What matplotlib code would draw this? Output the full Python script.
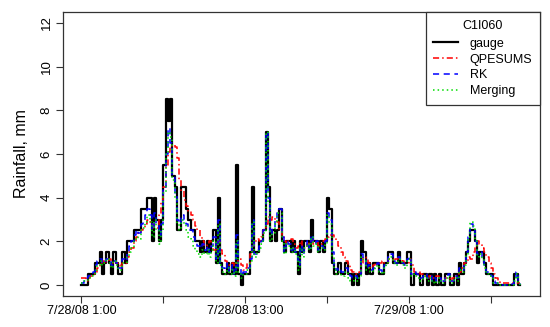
import matplotlib
matplotlib.use("Agg")
import matplotlib.pyplot as plt
import numpy as np

# 10-minute rainfall (mm) at station C1I060, starting 7/28/08 1:00
gauge = [
    0, 0, 0, 0.5, 0.5, 0.5, 1.0, 1.0, 1.5, 0.5, 1.0, 1.5, 1.0, 0.5, 1.5, 1.0,
    0.5, 0.5, 1.5, 1.0, 2.0, 2.0, 2.0, 2.5, 2.5, 2.5, 3.5, 3.5, 3.5, 4.0, 4.0, 2.0,
    4.0, 3.0, 2.0, 3.0, 5.5, 8.5, 7.5, 8.5, 5.0, 4.5, 2.5, 2.5, 4.5, 4.5, 3.5, 3.0,
    2.5, 2.5, 2.0, 2.0, 1.5, 2.0, 1.5, 2.0, 1.5, 2.0, 2.5, 1.0, 4.0, 1.0, 0.5, 0.5,
    1.0, 0.5, 1.0, 0.5, 5.5, 0.5, 0, 0.5, 0.5, 0.5, 1.5, 4.5, 1.5, 1.5, 2.0, 2.0,
    2.5, 7.0, 4.5, 2.0, 2.5, 2.0, 2.5, 3.5, 2.0, 1.5, 2.0, 2.0, 1.5, 2.0, 1.5, 0.5,
    2.0, 1.5, 2.0, 2.0, 1.5, 3.0, 2.0, 2.0, 1.5, 2.0, 1.5, 2.0, 4.0, 3.5, 1.0, 0.5,
    0.5, 1.0, 0.5, 0.5, 1.0, 0.5, 0.5, 0, 0.5, 0, 0.5, 2.0, 1.5, 0.5, 1.0, 0.5,
    1.0, 1.0, 1.0, 0.5, 0.5, 1.0, 1.0, 1.5, 1.5, 1.0, 1.0, 1.5, 1.0, 1.0, 1.0, 1.5,
    1.5, 0, 0.5, 0.5, 0.5, 0, 0.5, 0.5, 0, 0.5, 0, 0.5, 0, 0.5, 0, 0,
    0.5, 0.5, 0, 0, 0.5, 0, 1.0, 0.5, 1.0, 1.5, 2.0, 2.5, 2.5, 2.0, 1.0, 1.5,
    1.5, 1.0, 0.5, 0.5, 0.5, 0, 0, 0, 0, 0, 0, 0, 0, 0, 0.5, 0.5,
    0, 0,
]

qpesums = [
    0.3, 0.3, 0.2, 0.3, 0.4, 0.5, 0.6, 0.8, 1.0, 1.1, 1.0, 1.1, 1.2, 1.0, 1.1, 1.0,
    0.9, 0.8, 1.0, 1.0, 1.3, 1.5, 1.7, 2.0, 2.2, 2.4, 2.5, 2.6, 2.8, 3.0, 2.9, 2.8,
    2.6, 2.6, 3.2, 3.8, 4.5, 5.5, 6.1, 6.3, 6.4, 6.3, 5.8, 4.8, 4.3, 3.9, 3.6, 3.4,
    3.2, 3.0, 2.7, 2.5, 2.2, 2.0, 1.8, 1.9, 2.0, 1.8, 1.6, 1.9, 2.0, 1.6, 1.4, 1.1,
    1.0, 0.9, 1.0, 0.8, 1.0, 1.2, 0.9, 0.7, 0.8, 1.0, 1.4, 1.8, 2.0, 2.1, 2.0, 2.2,
    2.5, 2.8, 3.1, 3.0, 3.1, 3.0, 2.9, 2.5, 2.2, 2.0, 1.9, 2.0, 2.1, 1.9, 1.7, 1.8,
    2.0, 1.8, 1.7, 1.9, 2.0, 2.1, 1.9, 2.0, 1.8, 1.9, 2.0, 2.1, 2.2, 2.3, 2.3, 2.2,
    2.0, 1.8, 1.5, 1.3, 1.1, 0.9, 0.7, 0.6, 0.5, 0.5, 0.6, 1.0, 1.3, 1.2, 1.0, 0.8,
    0.9, 1.0, 0.9, 1.0, 1.1, 1.0, 1.0, 1.2, 1.2, 1.1, 1.2, 1.3, 1.2, 1.1, 1.0, 1.0,
    1.2, 0.9, 0.6, 0.5, 0.6, 0.5, 0.4, 0.4, 0.3, 0.4, 0.3, 0.3, 0.4, 0.3, 0.2, 0.2,
    0.3, 0.3, 0.2, 0.3, 0.4, 0.4, 0.6, 0.8, 1.0, 1.1, 1.3, 1.2, 1.5, 1.8, 2.0, 1.9,
    1.7, 1.5, 1.3, 1.0, 0.8, 0.5, 0.3, 0.2, 0.1, 0.1, 0.1, 0.1, 0.1, 0.1, 0.1, 0.1,
    0.1, 0.1,
]

rk = [
    0.1, 0.2, 0.3, 0.4, 0.5, 0.6, 0.9, 1.1, 1.2, 1.0, 1.1, 1.2, 1.1, 0.9, 1.1, 1.0,
    0.8, 0.8, 1.2, 1.1, 1.5, 1.8, 2.0, 2.3, 2.5, 2.4, 2.8, 3.0, 3.2, 3.5, 3.2, 2.5,
    3.3, 2.8, 2.3, 2.8, 4.5, 6.0, 7.2, 6.5, 5.0, 4.2, 3.0, 2.8, 3.2, 3.0, 2.8, 2.5,
    2.5, 2.2, 2.0, 1.8, 1.7, 1.9, 1.6, 1.8, 1.5, 1.8, 2.2, 1.2, 3.0, 1.0, 0.8, 0.7,
    1.0, 0.6, 0.9, 0.5, 2.3, 0.8, 0.4, 0.6, 0.6, 0.8, 1.2, 3.0, 1.4, 1.6, 1.8, 2.0,
    2.5, 7.0, 4.0, 2.3, 2.6, 3.0, 3.5, 3.5, 2.2, 1.5, 2.0, 1.9, 1.6, 1.8, 1.5, 0.9,
    1.8, 1.4, 1.8, 2.0, 1.7, 2.3, 1.9, 2.0, 1.6, 1.8, 1.7, 2.0, 3.3, 3.0, 1.5, 0.9,
    0.7, 0.8, 0.6, 0.6, 0.8, 0.5, 0.4, 0.3, 0.4, 0.3, 0.5, 1.4, 1.2, 0.8, 0.9, 0.7,
    0.8, 0.9, 1.0, 0.7, 0.6, 0.9, 1.0, 1.3, 1.4, 1.1, 1.0, 1.3, 1.2, 1.0, 0.9, 1.2,
    1.3, 0.5, 0.6, 0.5, 0.4, 0.3, 0.4, 0.5, 0.3, 0.4, 0.2, 0.3, 0.2, 0.3, 0.1, 0.2,
    0.4, 0.5, 0.2, 0.2, 0.4, 0.3, 0.8, 0.7, 1.0, 1.5, 2.2, 2.8, 2.6, 2.0, 1.4, 1.5,
    1.3, 0.9, 0.6, 0.5, 0.4, 0.2, 0.1, 0.05, 0, 0, 0, 0, 0, 0.05, 0.3, 0.6,
    0.1, 0,
]

merging = [
    0.1, 0.2, 0.2, 0.3, 0.4, 0.5, 0.7, 0.9, 1.1, 0.9, 1.0, 1.2, 1.0, 0.8, 1.1, 0.9,
    0.7, 0.7, 1.0, 1.0, 1.3, 1.5, 1.7, 2.0, 2.2, 2.1, 2.5, 2.6, 2.9, 3.2, 2.9, 2.2,
    3.0, 2.5, 1.9, 2.5, 4.2, 6.0, 7.0, 6.8, 4.8, 4.0, 2.8, 2.5, 3.0, 2.8, 2.5, 2.2,
    2.1, 1.8, 1.6, 1.4, 1.3, 1.6, 1.4, 1.6, 1.3, 1.6, 2.0, 1.0, 2.8, 0.9, 0.6, 0.5,
    0.8, 0.5, 0.7, 0.4, 2.0, 0.6, 0.3, 0.5, 0.5, 0.7, 1.1, 2.9, 1.3, 1.5, 1.7, 1.9,
    2.4, 7.0, 3.8, 2.0, 2.4, 2.8, 3.3, 3.3, 2.0, 1.4, 1.9, 1.8, 1.5, 1.7, 1.4, 0.7,
    1.7, 1.3, 1.7, 1.9, 1.6, 2.2, 1.8, 1.9, 1.5, 1.7, 1.6, 1.9, 3.2, 2.8, 1.3, 0.7,
    0.5, 0.6, 0.4, 0.4, 0.6, 0.3, 0.2, 0.2, 0.3, 0.2, 0.4, 1.3, 1.1, 0.7, 0.8, 0.6,
    0.7, 0.8, 0.9, 0.6, 0.5, 0.8, 0.9, 1.2, 1.3, 1.0, 0.9, 1.2, 1.1, 0.9, 0.8, 1.1,
    1.2, 0.4, 0.5, 0.4, 0.3, 0.2, 0.3, 0.4, 0.2, 0.3, 0.1, 0.2, 0.1, 0.3, 0.1, 0.1,
    0.3, 0.4, 0.1, 0.1, 0.3, 0.2, 0.7, 0.6, 0.9, 1.4, 2.2, 2.9, 2.7, 2.0, 1.3, 1.4,
    1.2, 0.8, 0.5, 0.4, 0.3, 0.1, 0.1, 0, 0, 0, 0, 0, 0, 0, 0.2, 0.5,
    0.1, 0,
]

step_minutes = 10
tick_hours = [0, 6, 12, 18, 24, 30]
tick_labels = ["7/28/08 1:00", "", "7/28/08 13:00", "", "7/29/08 1:00", ""]
station = "C1I060"

assert len(gauge) == len(qpesums) == len(rk) == len(merging)

plt.rcParams["font.family"] = ["Liberation Sans", "DejaVu Sans"]

hours = np.arange(len(gauge)) * step_minutes / 60.0

fig = plt.figure(figsize=(5.5, 3.27), dpi=100)
ax = fig.add_axes([0.1145, 0.0963, 0.8673, 0.8655])

ax.step(hours, gauge, where="post", color="black", lw=1.6, label="gauge")
ax.step(hours, qpesums, where="post", color="#FF0000", lw=1.1,
        linestyle=(0, (4, 2, 1, 2)), label="QPESUMS")
ax.step(hours, rk, where="post", color="#0000FF", lw=1.1,
        linestyle=(0, (4, 3)), label="RK")
ax.step(hours, merging, where="post", color="#00DD00", lw=1.1,
        linestyle=(0, (1, 2)), label="Merging")

ax.set_xlim(-1.35, 33.6)
ax.set_ylim(-0.48, 12.48)
ax.set_xticks(tick_hours)
ax.set_xticklabels(tick_labels, fontsize=9)
ax.set_yticks(np.arange(0, 13, 2))
ax.set_yticklabels([str(v) for v in range(0, 13, 2)], fontsize=9.5,
                   rotation=90, va="center")
ax.tick_params(direction="out", length=5, width=0.8, colors="#333333",
               labelcolor="black")
ax.tick_params(axis="x", pad=1.5)
ax.tick_params(axis="y", pad=2.5)
ax.set_ylabel("Rainfall, mm", fontsize=11.5, labelpad=8)
for s in ax.spines.values():
    s.set_linewidth(0.9)
    s.set_color("#333333")

leg = ax.legend(loc="upper right", title=station, fontsize=9,
                title_fontsize=9, frameon=True, fancybox=False,
                borderaxespad=0, edgecolor="#333333", framealpha=1,
                handlelength=2.0, handletextpad=0.9, labelspacing=0.3,
                borderpad=0.62)
leg.get_frame().set_linewidth(0.9)
leg._legend_box.sep = 4

fig.savefig("out.png", dpi=100)
